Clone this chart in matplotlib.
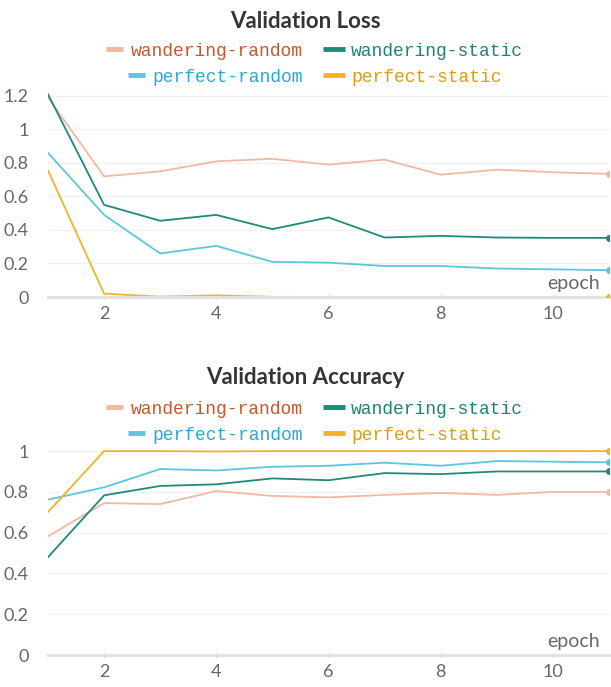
import matplotlib
matplotlib.use("Agg")
import matplotlib.pyplot as plt
from matplotlib.lines import Line2D

epochs = [1, 2, 3, 4, 5, 6, 7, 8, 9, 10, 11]
names = ["wandering-random", "wandering-static", "perfect-random", "perfect-static"]

loss_wandering_random = [1.19, 0.72, 0.75, 0.81, 0.825, 0.79, 0.82, 0.73, 0.76, 0.745, 0.735]
loss_wandering_static = [1.21, 0.55, 0.455, 0.49, 0.405, 0.475, 0.355, 0.365, 0.355, 0.353, 0.353]
loss_perfect_random = [0.86, 0.49, 0.26, 0.305, 0.21, 0.205, 0.185, 0.185, 0.17, 0.165, 0.16]
loss_perfect_static = [0.755, 0.02, 0.002, 0.01, 0.001, 0.0, 0.0, 0.0, 0.0, 0.0, 0.0]

acc_wandering_random = [0.582, 0.745, 0.74, 0.804, 0.78, 0.773, 0.785, 0.795, 0.785, 0.8, 0.8]
acc_wandering_static = [0.48, 0.783, 0.829, 0.837, 0.866, 0.857, 0.892, 0.887, 0.9, 0.9, 0.9]
acc_perfect_random = [0.762, 0.822, 0.912, 0.905, 0.923, 0.928, 0.943, 0.928, 0.951, 0.948, 0.945]
acc_perfect_static = [0.701, 1.0, 1.0, 0.998, 1.0, 1.0, 1.0, 1.0, 1.0, 1.0, 1.0]

line_colors = ["#f2b8a0", "#1f8a78", "#5cc6e0", "#f0b429"]
text_colors = ["#c8582c", "#1f8474", "#2ea6d6", "#e09c12"]

W, H = 611, 687
fig = plt.figure(figsize=(W / 100, H / 100), dpi=100)
TICK_FONT = "Lato"
MONO = "Liberation Mono"


def legend(y_px):
    # two centred rows, first column right aligned, second left aligned
    renderer = fig.canvas.get_renderer()
    rows = [(0, 1), (2, 3)]
    for r, (a, b) in enumerate(rows):
        y = 1 - (y_px + r * 26) / H
        t = fig.text(303 / W, y, names[a], ha="right", va="center",
                     fontsize=13, family=MONO, color=text_colors[a])
        bb = t.get_window_extent(renderer)
        x0 = bb.x0 - 8
        fig.add_artist(Line2D([(x0 - 17) / W, x0 / W], [y + 2 / H, y + 2 / H],
                              color=line_colors[a], lw=3.5, solid_capstyle="butt"))
        fig.add_artist(Line2D([323 / W, 345 / W], [y + 2 / H, y + 2 / H],
                              color=line_colors[b], lw=3.5, solid_capstyle="butt"))
        fig.text(351 / W, y, names[b], ha="left", va="center",
                 fontsize=13, family=MONO, color=text_colors[b])


def panel(rect, series, ylim, yticks, ylabels, title, title_y, legend_y):
    ax = fig.add_axes(rect)
    for vals, c in zip(series, line_colors):
        ax.plot(epochs, vals, color=c, lw=1.3, zorder=3)
        ax.plot(epochs[-1], vals[-1], "o", color=c, ms=4, zorder=5, clip_on=True)
    ax.set_xlim(1, 11)
    ax.set_ylim(*ylim)
    ax.set_yticks(yticks)
    ax.set_yticklabels(ylabels)
    ax.set_xticks([2, 4, 6, 8, 10])
    for s in ax.spines.values():
        s.set_visible(False)
    ax.axhline(0, color="#e2e2e2", lw=2.2, zorder=4, clip_on=False)
    for yt in yticks[1:]:
        ax.axhline(yt, color="#f0f0f0", lw=1, zorder=0)
    ax.tick_params(axis="y", length=0, pad=14, labelsize=13, labelcolor="#666670")
    ax.tick_params(axis="x", length=5, width=1, color="#e2e2e2", direction="inout",
                   pad=4, labelsize=13, labelcolor="#666670")
    for lab in ax.get_xticklabels() + ax.get_yticklabels():
        lab.set_family(TICK_FONT)
    ax.text(0.984, 0.025, "epoch", transform=ax.transAxes, ha="right", va="bottom",
            fontsize=14, family=TICK_FONT, color="#666670")
    fig.text(0.5, 1 - title_y / H, title, ha="center", va="center", fontsize=16,
             fontweight="bold", family="Lato", color="#333338")
    legend(legend_y)
    return ax


panel([48 / W, 1 - 297 / H, 561 / W, 204.4 / H],
      [loss_wandering_random, loss_wandering_static, loss_perfect_random, loss_perfect_static],
      (0, 1.22), [0, 0.2, 0.4, 0.6, 0.8, 1.0, 1.2],
      ["0", "0.2", "0.4", "0.6", "0.8", "1", "1.2"],
      "Validation Loss", 21, 51)

panel([48 / W, 1 - 655 / H, 561 / W, 208 / H],
      [acc_wandering_random, acc_wandering_static, acc_perfect_random, acc_perfect_static],
      (0, 1.02), [0, 0.2, 0.4, 0.6, 0.8, 1.0],
      ["0", "0.2", "0.4", "0.6", "0.8", "1"],
      "Validation Accuracy", 378, 409)

fig.savefig("out.png", dpi=100, facecolor="white")
